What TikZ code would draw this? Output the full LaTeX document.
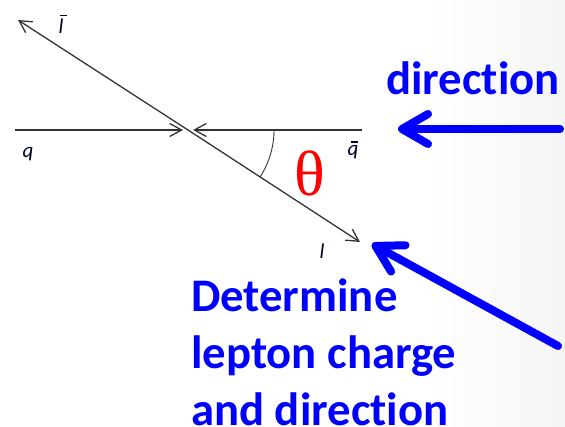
\documentclass[tikz,border=0pt]{standalone}
\usepackage{fontspec}
\setsansfont{Carlito}[Ligatures=NoCommon]
\newfontfamily\thetafont{Liberation Serif}
\usetikzlibrary{arrows.meta}
\newcommand\barlabel[2]{{\setbox0\hbox{#1}\rlap{\kern#2\raisebox{\dimexpr\ht0+0.12em}{\rule{0.36em}{0.06em}}}\box0}}

\begin{document}
\begin{tikzpicture}[
  x=1pt, y=-1pt,
  track/.style={draw=black!80,line width=1.3pt,-{Straight Barb[length=12pt,width=13pt]}},
  pointer/.style={draw=blue,line width=8pt,line cap=round,-{Straight Barb[length=26pt,width=30pt,round]}},
  lbl/.style={inner sep=0pt,font=\sffamily\itshape\fontsize{21}{21}\selectfont,text=black!85!blue},
  remark/.style={inner sep=0pt,align=left,text=blue,font=\sffamily\bfseries\fontsize{46.7}{57}\selectfont}
]
\useasboundingbox (0,0) rectangle (565,427);
\shade[left color=white,right color=black!4] (430,0) rectangle (565,427);
% vertex and line ends
\coordinate (vtx) at (188,130);
\coordinate (qin) at (15,130);
\coordinate (qbin) at (362,130);
\coordinate (lbend) at (18,20);
\coordinate (lend) at (360,242);
\draw[track] (qin) -- ([xshift=-5pt]vtx);
\draw[track] (qbin) -- ([xshift=5pt]vtx);
\draw[track] (vtx) -- (lbend);
\draw[track] (vtx) -- (lend);
\draw[black!80,line width=0.9pt] ([shift={(0:86)}]vtx) arc[start angle=0,end angle=33,radius=86];
% labels
\node[lbl] (lb) at (61,24) {\barlabel{l}{0.05em}};
\node[lbl] (q) at (28,154) {q};
\node[lbl] (qb) at (353,150) {\barlabel{q}{0.15em}};
\node[lbl] (l) at (322,251) {l};
\node[text=red,inner sep=0pt,font=\thetafont\fontsize{64}{64}\selectfont] (theta) at (310,173) {θ};
% blue remarks
\node[remark,anchor=base west] (dir) at (386,95) {direction};
\node[remark,anchor=north west] (det) at (191,279) {Determine\\lepton charge\\and direction};
\coordinate (dtail) at (560,129);
\coordinate (dtip) at (398,129);
\coordinate (ltail) at (558,346);
\coordinate (ltip) at (372,244);
\draw[pointer] (dtail) -- (dtip);
\draw[pointer] (ltail) -- (ltip);
\end{tikzpicture}
\end{document}
